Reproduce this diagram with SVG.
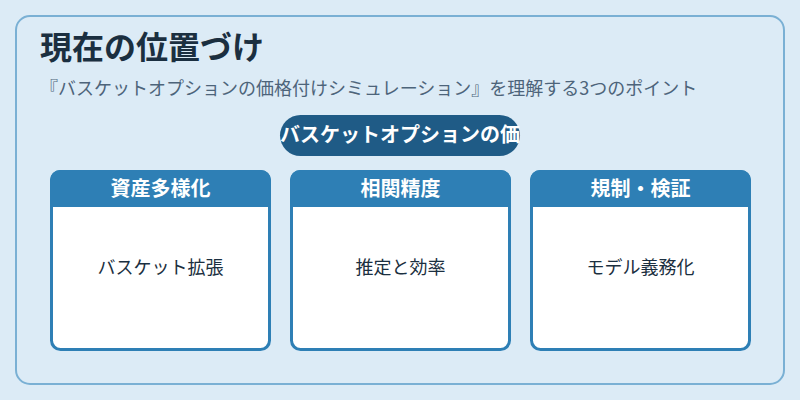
<svg xmlns="http://www.w3.org/2000/svg" width="800" height="400" viewBox="0 0 800 400">
<style>
  text { font-family: "Noto Sans CJK JP", "Noto Sans", sans-serif; }
  .title { font-size: 32px; font-weight: 700; fill: #1b2f40; }
  .sub { font-size: 18px; fill: #4d647a; }
  .pill { fill: #1f5b86; }
  .pilltext { font-size: 20px; font-weight: 700; fill: #ffffff; }
  .card { fill: #ffffff; stroke: #2e7fb5; stroke-width: 3; }
  .head { fill: #2e7fb5; }
  .headtext { font-size: 20px; font-weight: 700; fill: #ffffff; }
  .body { font-size: 18px; fill: #1b2f40; }
</style>
<rect x="0" y="0" width="800" height="400" fill="#dcebf6"/>
<rect x="16" y="16" width="768" height="368" rx="14" fill="#dcebf6" stroke="#7ab0d4" stroke-width="2"/>
<text class="title" x="40" y="59">現在の位置づけ</text>
<text class="sub" x="40" y="95">『バスケットオプションの価格付けシミュレーション』を理解する3つのポイント</text>
<g id="banner">
  <rect class="pill" x="280" y="115" width="240" height="41" rx="20.5"/>
  <text class="pilltext" x="400" y="142" text-anchor="middle">バスケットオプションの価</text>
</g>
<g id="connectors"></g>
<g id="card1">
  <rect class="card" x="51.5" y="171.5" width="218" height="178" rx="9"/>
  <path class="head" d="M50 207 V180 a10 10 0 0 1 10 -10 H261 a10 10 0 0 1 10 10 V207 Z"/>
  <text class="headtext" x="160.5" y="196" text-anchor="middle">資産多様化</text>
  <text class="body" x="160.5" y="274" text-anchor="middle">バスケット拡張</text>
</g>
<g id="card2">
  <rect class="card" x="291.5" y="171.5" width="218" height="178" rx="9"/>
  <path class="head" d="M290 207 V180 a10 10 0 0 1 10 -10 H501 a10 10 0 0 1 10 10 V207 Z"/>
  <text class="headtext" x="400.5" y="196" text-anchor="middle">相関精度</text>
  <text class="body" x="400.5" y="274" text-anchor="middle">推定と効率</text>
</g>
<g id="card3">
  <rect class="card" x="531.5" y="171.5" width="218" height="178" rx="9"/>
  <path class="head" d="M530 207 V180 a10 10 0 0 1 10 -10 H741 a10 10 0 0 1 10 10 V207 Z"/>
  <text class="headtext" x="640.5" y="196" text-anchor="middle">規制・検証</text>
  <text class="body" x="640.5" y="274" text-anchor="middle">モデル義務化</text>
</g>
</svg>
